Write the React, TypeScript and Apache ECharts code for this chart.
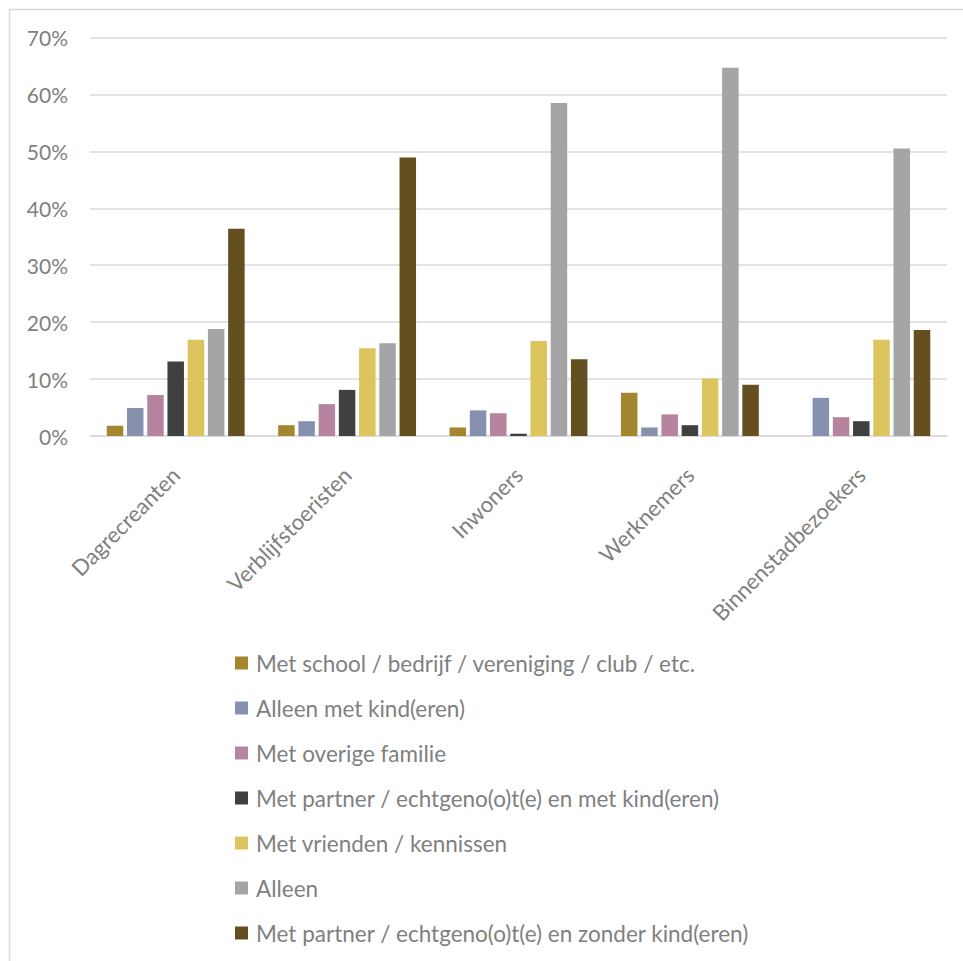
import React, { useEffect, useRef } from "react";
import * as echarts from "echarts";

const categories = ["Dagrecreanten", "Verblijfstoeristen", "Inwoners", "Werknemers", "Binnenstadbezoekers"];
const seriesNames = [
  "Met school / bedrijf / vereniging / club / etc.",
  "Alleen met kind(eren)",
  "Met overige familie",
  "Met partner / echtgeno(o)t(e) en met kind(eren)",
  "Met vrienden / kennissen",
  "Alleen",
  "Met partner / echtgeno(o)t(e) en zonder kind(eren)",
];
const colors = ["#A5862F", "#8591AE", "#B784A0", "#404040", "#DCC45E", "#A5A5A5", "#634F1F"];
const schoolValues = [1.8, 1.9, 1.5, 7.6, 0];
const kindValues = [4.9, 2.6, 4.5, 1.5, 6.7];
const familieValues = [7.2, 5.6, 4.0, 3.8, 3.3];
const partnerKindValues = [13.1, 8.1, 0.4, 1.9, 2.6];
const vriendenValues = [16.9, 15.4, 16.7, 10.1, 16.9];
const alleenValues = [18.8, 16.3, 58.5, 64.7, 50.5];
const partnerZonderValues = [36.4, 48.9, 13.5, 9.0, 18.6];
const seriesValues = [schoolValues, kindValues, familieValues, partnerKindValues, vriendenValues, alleenValues, partnerZonderValues];
const yTicks = [0, 10, 20, 30, 40, 50, 60, 70];

const FONT = "Lato";
const TEXT = "#7f7f7f";

export default function App() {
  const ref = useRef<HTMLDivElement>(null);
  useEffect(() => {
    const chart = echarts.init(ref.current!, null, { renderer: "svg" });
    chart.setOption({
      animation: false,
      color: colors,
      graphic: [
        {
          type: "rect",
          shape: { x: 9.5, y: 9.5, width: 980, height: 980 },
          style: { fill: "none", stroke: "#d9d9d9", lineWidth: 1.5 },
          silent: true,
        },
      ],
      grid: { left: 90, right: 16, top: 37.5, bottom: 525, containLabel: false },
      xAxis: {
        type: "category",
        data: categories,
        axisLine: { lineStyle: { color: "#d9d9d9", width: 1.5 } },
        axisTick: { show: false },
        axisLabel: {
          rotate: 45,
          margin: 35,
          color: TEXT,
          fontFamily: FONT,
          fontSize: 22,
          align: "right",
          verticalAlign: "middle",
          interval: 0,
        },
      },
      yAxis: {
        type: "value",
        min: 0,
        max: 70,
        interval: 10,
        axisLine: { show: false },
        axisTick: { show: false },
        splitLine: { lineStyle: { color: "#d9d9d9", width: 1.5 } },
        axisLabel: {
          margin: 22,
          color: TEXT,
          fontFamily: FONT,
          fontSize: 21,
          formatter: (v: number) => (yTicks.includes(v) ? v + "%" : ""),
        },
      },
      legend: {
        orient: "vertical",
        left: 235,
        top: 651,
        padding: 0,
        itemWidth: 13,
        itemHeight: 13,
        itemGap: 21,
        icon: "rect",
        textStyle: { color: TEXT, fontFamily: FONT, fontSize: 22.5, lineHeight: 24, padding: [0, 0, 0, 3] },
        data: seriesNames,
      },
      series: seriesNames.map((name, i) => ({
        name,
        type: "bar",
        data: seriesValues[i],
        barWidth: 16.5,
        barGap: "22.6%",
        itemStyle: { color: colors[i] },
      })),
    });
    return () => chart.dispose();
  }, []);
  return <div ref={ref} style={{ position: "absolute", left: 0, top: 0, width: 963, height: 961 }} />;
}
